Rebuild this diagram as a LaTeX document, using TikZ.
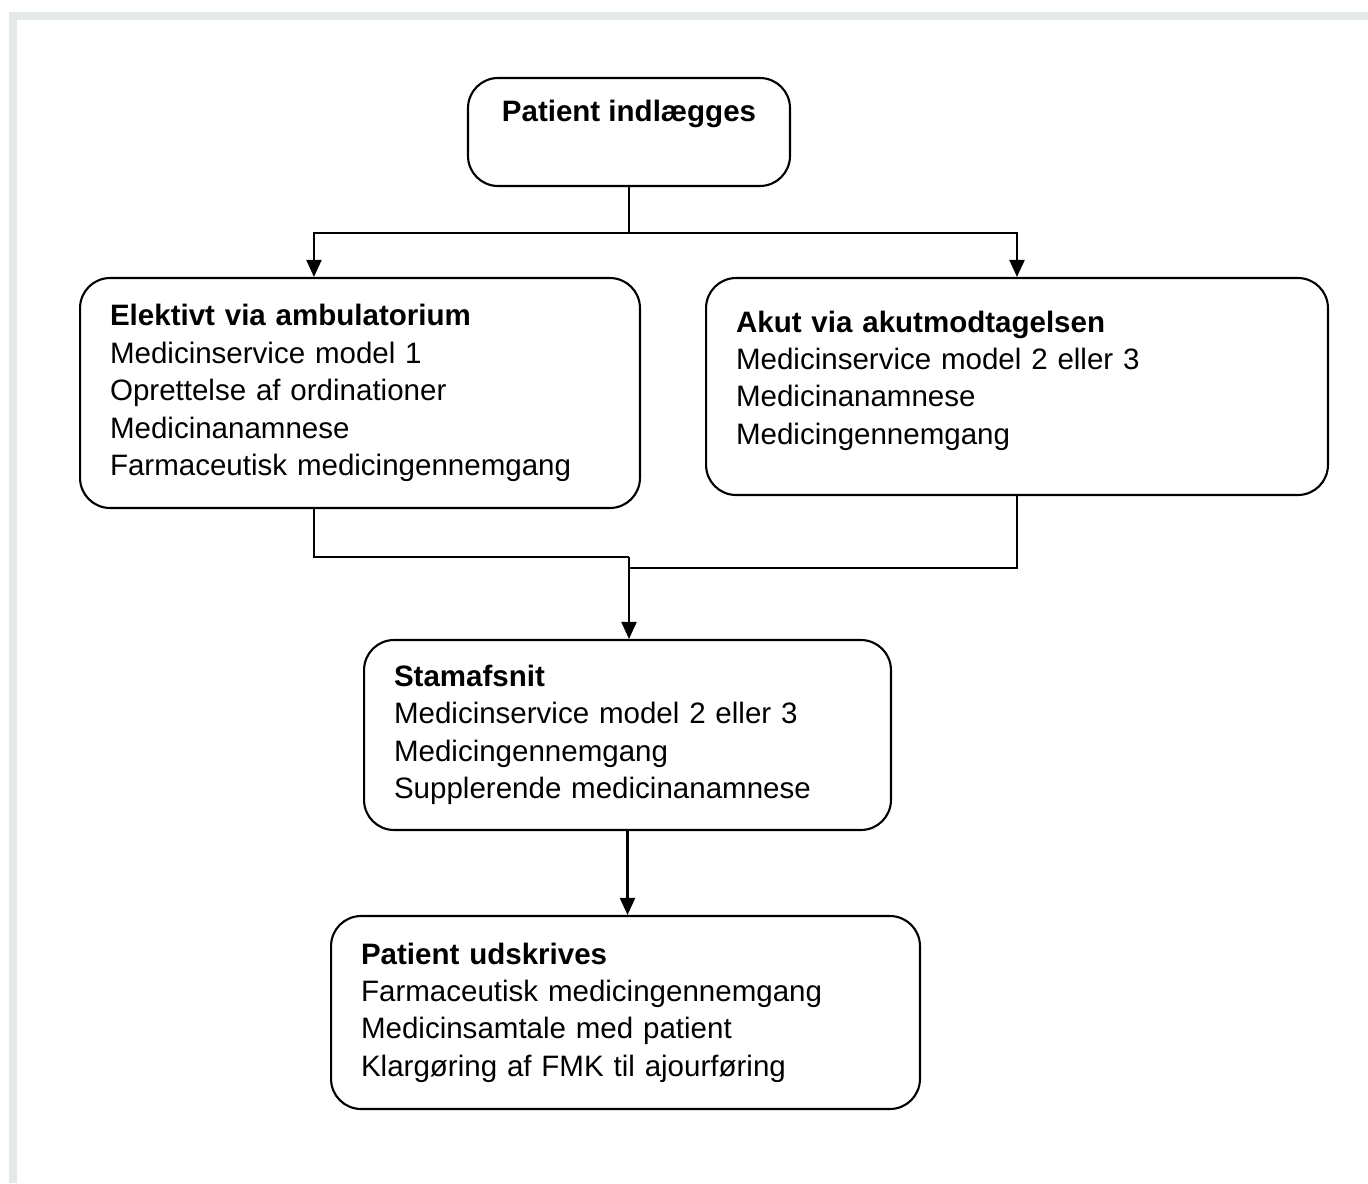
\documentclass[tikz,border=0pt]{standalone}
\usepackage{fontspec}
\setmainfont{Liberation Sans}
\usepackage{xcolor}
\usepackage{tikz}
\usetikzlibrary{positioning,calc,arrows.meta}
\definecolor{framegray}{RGB}{230,233,234}

\begin{document}
\begin{tikzpicture}[x=0.02cm,y=-0.02cm,
    box/.style={draw, rounded corners=0.6cm, line width=1.2pt, align=left, inner xsep=0.6cm, inner ysep=0pt, font=\fontsize{16.8}{21.3}\selectfont},
    line/.style={line width=1.2pt},
    arr/.style={line, -{Triangle[length=0.34cm,width=0.3cm]}}]
    \useasboundingbox (0,0) rectangle (1368,1183);
    % grey frame
    \fill[framegray] (9,12) rectangle (1368,20);
    \fill[framegray] (9,12) rectangle (17,1183);

    \node[box, align=center, minimum width=6.44cm, minimum height=2.16cm] at (629,132) (indl) {\textbf{Patient indlægges}\\[-4pt] \strut};
    \node[box, text width=10cm, minimum width=11.2cm, minimum height=4.6cm] at (360,393) (elekt) {\textbf{Elektivt via ambulatorium}\\Medicinservice model 1\\Oprettelse af ordinationer\\Medicinanamnese\\Farmaceutisk medicingennemgang};
    \node[box, text width=11.24cm, minimum width=12.44cm, minimum height=4.34cm] at (1017,386.5) (akut) {\textbf{Akut via akutmodtagelsen}\\Medicinservice model 2 eller 3\\Medicinanamnese\\Medicingennemgang\\[-11pt]\mbox{}};
    \node[box, text width=9.34cm, minimum width=10.54cm, minimum height=3.8cm] at (627.5,735) (stam) {\textbf{Stamafsnit}\\Medicinservice model 2 eller 3\\Medicingennemgang\\Supplerende medicinanamnese};
    \node[box, text width=10.58cm, minimum width=11.78cm, minimum height=3.86cm] at (625.5,1012.5) (udskr) {\textbf{Patient udskrives}\\Farmaceutisk medicingennemgang\\Medicinsamtale med patient\\Klargøring af FMK til ajourføring};

    \coordinate (split) at (629,233);
    \coordinate (join) at (629,557);
    \coordinate (join2) at (629,568);

    \draw[arr] (indl.south) -- (split) -| ([xshift=4.7cm]elekt.north west);
    \draw[arr] (split) -| (akut.north);
    \draw[line] ([xshift=4.7cm]elekt.south west) |- (join);
    \draw[line] (akut.south) |- (join2);
    \draw[arr] (join) -- (join |- stam.north);
    \draw[arr] (stam.south) -- (stam.south |- udskr.north);
\end{tikzpicture}
\end{document}
